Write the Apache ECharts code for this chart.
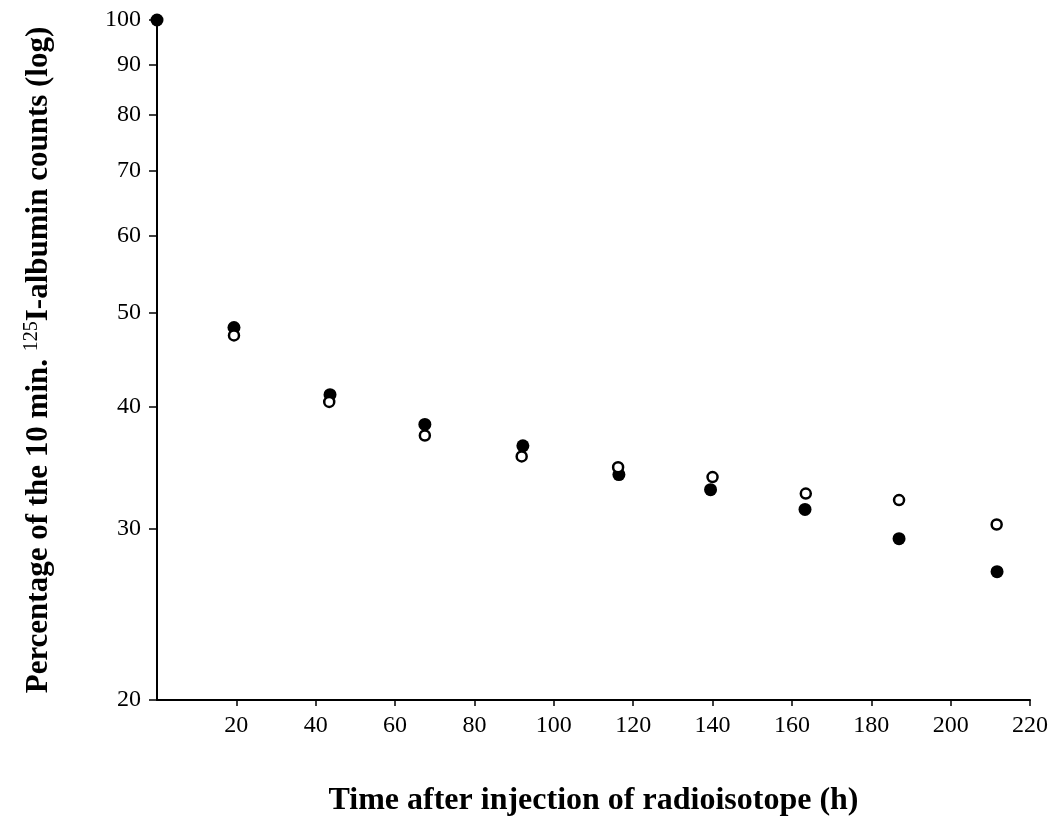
<!DOCTYPE html>
<html>
<head>
<meta charset="utf-8">
<script src="https://cdn.jsdelivr.net/npm/echarts@6/dist/echarts.min.js"></script>
<style>html,body{margin:0;padding:0;background:#fff}#c{width:1061px;height:823px}</style>
</head>
<body>
<div id="c"></div>
<script>
var filledX = [0, 19.4, 43.6, 67.5, 92.2, 116.4, 139.5, 163.3, 187.0, 211.7];
var filledY = [100, 48.3, 41.2, 38.4, 36.5, 34.1, 32.9, 31.4, 29.3, 27.1];
var openX = [19.4, 43.4, 67.5, 91.9, 116.2, 140.0, 163.5, 187.0, 211.6];
var openY = [47.4, 40.5, 37.4, 35.6, 34.7, 33.9, 32.6, 32.1, 30.3];
var xTicks = [20, 40, 60, 80, 100, 120, 140, 160, 180, 200, 220];
var yTicks = [20, 30, 40, 50, 60, 70, 80, 90, 100];

function pairs(xs, ys) { return xs.map(function (x, i) { return [x, ys[i]]; }); }

var chart = echarts.init(document.getElementById('c'));
var serif = "'Liberation Serif', 'DejaVu Serif', serif";
chart.setOption({
  backgroundColor: '#fff',
  animation: false,
  grid: { left: 157, right: 31, top: 20, bottom: 123, containLabel: false, outerBoundsMode: 'none' },
  xAxis: {
    type: 'value', min: 0, max: 220, interval: 20,
    name: 'Time after injection of radioisotope (h)',
    nameLocation: 'middle', nameGap: 85,
    nameTextStyle: { fontFamily: serif, fontWeight: 'bold', fontSize: 32, color: '#000' },
    axisLine: { lineStyle: { color: '#000', width: 2 } },
    axisTick: { show: true, length: 6, inside: false, lineStyle: { color: '#000', width: 1.5 }, customValues: xTicks },
    axisLabel: { customValues: xTicks, margin: 14, fontFamily: serif, fontSize: 24, color: '#000' },
    splitLine: { show: false }
  },
  yAxis: {
    type: 'log', logBase: 10, min: 20, max: 100,
    name: '{b|Percentage of the 10 min. }{s|125}{b|I-albumin counts (log)}',
    nameLocation: 'middle', nameGap: 100, nameRotate: 90,
    nameTextStyle: {
      rich: {
        b: { fontFamily: serif, fontWeight: 'bold', fontSize: 31, color: '#000', lineHeight: 36 },
        s: { fontFamily: serif, fontWeight: 'normal', fontSize: 20, color: '#000', lineHeight: 36, padding: [0, 0, 14, 0] }
      }
    },
    axisLine: { show: true, lineStyle: { color: '#000', width: 2 } },
    axisTick: { show: true, length: 8, inside: false, lineStyle: { color: '#000', width: 1.5 }, customValues: yTicks },
    axisLabel: { customValues: yTicks, margin: 16, fontFamily: serif, fontSize: 24, color: '#000' },
    splitLine: { show: false }
  },
  series: [
    {
      type: 'scatter', name: 'filled', data: pairs(filledX, filledY),
      symbol: 'circle', symbolSize: 13, z: 2,
      itemStyle: { color: '#000', opacity: 1 }
    },
    {
      type: 'scatter', name: 'open', data: pairs(openX, openY),
      symbol: 'circle', symbolSize: 10, z: 3,
      itemStyle: { color: '#fff', borderColor: '#000', borderWidth: 2.5, opacity: 1 }
    }
  ]
});
</script>
</body>
</html>
